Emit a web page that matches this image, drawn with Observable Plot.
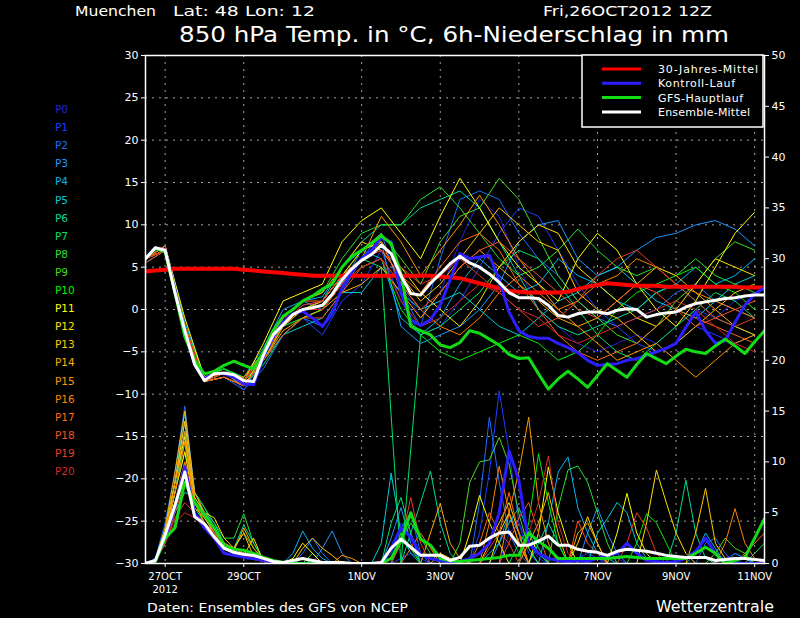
<!DOCTYPE html>
<html><head><meta charset="utf-8">
<script src="https://cdn.jsdelivr.net/npm/d3@7"></script>
<script src="https://cdn.jsdelivr.net/npm/@observablehq/plot@0.6"></script>
<style>
html,body{margin:0;padding:0;background:#000;}
#wrap{position:relative;width:800px;height:618px;background:#000;overflow:hidden;}
#wrap svg{position:absolute;left:0;top:0;}
</style></head><body><div id="wrap"></div>
<script>
// ---- time axis (hours after 26OCT2012 12Z) ----
const hours6 = d3.range(0, 379, 6);    // 64 steps, 6-hourly
const hours12 = d3.range(0, 373, 12);  // 32 steps, 12-hourly (members' temperature)
const xTickHours = [12, 60, 132, 180, 228, 276, 324, 372];
const xTickLabels = ["27OCT\n2012", "29OCT", "1NOV", "3NOV", "5NOV", "7NOV", "9NOV", "11NOV"];
const tempTicks = [-30, -25, -20, -15, -10, -5, 0, 5, 10, 15, 20, 25, 30];
const precTicks = [0, 5, 10, 15, 20, 25, 30, 35, 40, 45, 50];

// ---- ensemble members ----
const memberNames = ["P0","P1","P2","P3","P4","P5","P6","P7","P8","P9","P10","P11","P12","P13","P14","P15","P16","P17","P18","P19","P20"];
const memberColors = ["#2323d7","#1e3cff","#1e6eff","#1e96ff","#00b4f5","#00cddc","#00dc96","#00e164","#28e132","#46dc1e","#00f000","#ffff00","#ffe100","#ffc800","#ffaf00","#ff9600","#ff8200","#ff6914","#f55028","#e63c28","#d22828"];

// 850 hPa temperature, 12-hourly
const T_P0  = [6,7.5,-2,-8.5,-7.5,-8.5,-5,-1.5, 0.5,1,5,7,8,3,-1,2, 8,13,11,5,0,-2,-4,-5, -4,-3,-4,-2,0,-1,1,2];
const T_P1  = [6,7,-3,-8,-7,-9.5,-6,-2, -1,-3,1,3,7,1,-3,-2, 1,5,9,12,11,7,3,0, -2,-4,-5,-4,-2,-3,-4,-3];
const T_P2  = [6,7,-2.5,-8.5,-8,-9.5,-7,-3, -1,-2,2,6,9,2,-2,6, 13,14,13,9,6,4,1,-1, -2,-1,0,2,3,1,0,-1];
const T_P3  = [5.5,7,-2,-8,-7.5,-8,-4.5,0, 1,0,3,7,8,-2,-4,-3, -2,0,3,8,10,10.5,6,4, 5,7,8.5,9,10,10.5,9.5,7.5];
const T_P4  = [6,7.5,-1.5,-8,-7,-8,-5,-1, 1,1.5,5,7,6,-1,-3,-1, 3,6,4,2,3,6,4,3, 1,0,2,3,5,3,4,6];
const T_P5  = [6,7,-3,-8.5,-7.5,-9,-6,-3, -2,-1,2,2,5,2,0,1, 2,0,-2,-3,-1,1,2,4, 5,3,1,0,-1,1,3,4];
const T_P6  = [6,7,-2.5,-8,-7.5,-8.5,-6,-2, 0,1,5,8,10,10,12,13, 14,12,8,4,0,-2,-3,-2, -1,0,2,3,1,-1,-2,-3];
const T_P7  = [6,7.5,-2,-8.5,-8,-9,-6.5,-3, -1,0,4,6,5,-30,-3,-2, 0,2,5,7,6,3,0,-3, -5,-6,-4,-2,0,2,1,-1];
const T_P8  = [6,7,-3,-8,-7,-8.5,-5.5,-1, 1,2,6,9,10,10,13,14.5, 12,9,6,4,5,7,9.5,7, 5,4,5,4,6,4,3,2];
const T_P9  = [6,7,-2.5,-8.5,-7.5,-8,-5,-2, 0,1,4,7,9,6,3,8, 11,12,15.5,13,8.5,4,1,-1, -3,-4,-2,1,3,6,8,7];
const T_P10 = [6,7.5,-2,-8,-7,-8,-5,-2, -1,0,3,5,6,0,-3,-5, -6,-5,-4,-3,-4,-6,-5,-3, 0,2,3,4,5,3,2,0];
const T_P11 = [6,7.5,-1,-8,-7.5,-8.5,-4,1, 2,3,8,10.5,12,9,6,11, 15.5,12,8,5,3,1,6,9, 7,3,0,-2,1,5,9,11.5];
const T_P12 = [6,7,-2,-8.5,-8,-9,-5.5,-1.5, 0,1,4,7,8,5,2,0, -2,1,5,8,10,9,5,3, 1,-1,-2,0,3,6,5,4];
const T_P13 = [6,7.5,-2.5,-8.5,-7.5,-8.5,-5,-1, 1,2,5,8,7,4,1,3, 6,9,12,10,8,7,2,0, -1,-3,-5,-4,-2,0,2,3];
const T_P14 = [6,7,-3,-8,-7.5,-9,-6,-2.5, -1,0,2,3,5,2,-1,2, 5,7,5,3,1,-1,-2,-1, 1,3,5,4,2,0,-2,-3];
const T_P15 = [6,7.5,-2,-8.5,-8,-9,-6,-2, 0,1,4,6,11,8,4,7, 10,13.5,10,6,3,0,-2,-4, -6,-5,-4,-6,-8,-6,-4,-3];
const T_P16 = [6,7,-2.5,-8,-7.5,-8.5,-5.5,-2, 0,0,3,6,8,3,0,-2, -3,-1,2,4,2,0,1,3, 4,6,5,3,2,1,0,-1];
const T_P17 = [6,7,-2,-8.5,-7.5,-8,-5,-1, 1,1,4,6,7,4,2,5, 8,9,7,3,0,-3,-5,-6, -5,-4,-2,0,-1,-2,-3,-4];
const T_P18 = [5.5,7,-3,-8.5,-8,-9,-6,-3, -1,-1,2,5,6,3,0,2, 5,7,8,6,4,2,0,-1, 1,3,2,0,-2,-1,0,1];
const T_P19 = [6,7.5,-2.5,-8,-7.5,-8.5,-5.5,-1.5, 0.5,1,4,6,7,5,3,4, 6,4,2,0,-2,-1,1,4, 6,7,5,3,1,-1,-2,-1];
const T_P20 = [6,7,-2,-8.5,-7.5,-8.5,-5,-1, 0,0,3,5,6,1,-2,-1, 1,3,2,0,-1,-3,-4,-3, -2,-1,0,1,0,-2,-4,-5];

// 6h precipitation (mm), 6-hourly
const R_P0  = [0,0.3,3,7,12,6,4,3, 1.5,1,0.8,0.5,0.3,0,0,0, 0,0,0,0,0,0,0,0, 0,0,4,3,1,0,0,0, 0,0,0,0,0,3,4,2, 0.5,0,0,0,0,0,0,0.5, 0.5,0,0,0,0,0,0,0, 0,0,0,0.5,1,0.5,0,0];
const R_P1  = [0,0.2,2,6,9,5,4,2.5, 1.5,1,1,0.6,0.3,0,0,0, 0,0,0,0,0,0,0,0, 0,0,0.5,1,0.5,0,0,0, 0,0,3,9,17,11,4,1, 0,0,0,0,0.5,1,0.5,0, 0,0,0,0,0,0,0,0, 0,0,0,0,0,0,0,0];
const R_P2  = [0,0.5,4,9,15.5,7,5,3, 2,1.5,1,0.5,0.2,0,0,0, 1,2.5,1,0,0,0,0,0, 0,1,3.5,5,1,0,0,0, 0,0,6,14.4,8,3,1,0, 0,0,0,0,0,0,0,0, 0,0,0,0,0,0,0,0, 0,2,2.5,1,0,0,0,0];
const R_P3  = [0,0.3,3,8,14,6,4.5,3, 1.5,1,0.8,0.5,0.3,0,0,0, 0,0,1.5,3.2,1,0,0,0, 0,2.5,5.5,2,0,0,0,0, 0,0,0,0,2,5,3,1.5, 0,0,0,0,0,3,5.5,3, 1,0,0,0,0,0,0,0, 0,0,0,0,1,0.5,0,0];
const R_P4  = [0,0.2,2.5,7,13,6,5,4, 2,1.2,1,0.6,0.3,0,0,1, 3.2,1.5,0.5,0,0,0,0,0, 0,0,0,0,0,0,0,0, 0,0,0,0,0,0,0,0, 0,4,9,10.5,5.5,3,1,0.5, 0,0,0,0,0,0,0,0, 1,3,1.5,0,0,0,0,0];
const R_P5  = [0,0.4,3.5,8,15,7,5.5,3.5, 2,1.5,1,0.5,0.2,0,0,0, 0,0,0,0,0,0,0,0, 2,8.9,3,1,0,0,0,0, 0,0,0,1,2,4,5.5,3, 1,0,0,0,0,0,3,4.4, 6,5,2,0.5,0,0,0,0, 0,0,0,0,0,0,0,0];
const R_P6  = [0,0.3,2,5,7,6.5,5,3.5, 2,1.5,3.8,2,0.5,0.2,0,0, 0.5,0,0,0,0,0,0,0, 0,0,0,3,6,9.1,4,1, 0,0,0,0,0,0,0,0, 2,4,2,0,0,0,0,0, 0,0,0,0,0,0,3,8.2, 3,0.5,0,0,0,0,0,0];
const R_P7  = [0,0.2,2,6,10,5.5,4,3, 1.5,1,0.8,0.5,0.2,0,0,0, 0,0,0,0,0,0,0,0, 0,4,6.5,3,0,0,0,0, 0,0,0,0,0,0,2,3.5, 1.5,0,0,0,0,0,0,0, 0,0,0,0,0,0,0,0, 0,0,0,0,0,0,1,2];
const R_P8  = [0,0.3,3,7,11,7,5.5,4, 2.5,2.5,4.9,2,0.3,0,0,0, 0,1,0,0,0,0,0,0, 0,0,2,4,2.5,1,0,0, 0,0,0,0,0,0,0,0, 0,0,5.5,9.2,9.6,8,5,2, 0,0,0,0,0,0,0,0, 0,0,0,0,0,0,0,0];
const R_P9  = [0,0.2,2.5,6,8,6,4,3, 2,1.5,3,1.5,0.4,0,0,0, 0,0,0,0,0,0,0,0, 0,0,0,0,0,0,0,0, 2,8,10,10.2,12.4,9.8,4.9,1.5, 0,0,0,0,0,0,0,0, 0,0,0,0,0,0,0,0, 0,0,1,2.5,1.5,1,0,0];
const R_P10 = [0,0.3,3,7,12,5,4,2.5, 1.5,1,0.8,0.5,0.2,0,0,0, 0,0,0,0,0,0,0,0, 0,0,3,1.5,0,0,0,0, 0,0,0,0,0,0,0,4, 10.8,6,2,0,0,0,0,0, 0,0,2,4.9,4,2,0,0, 0,0,0,0,0,0,0,0];
const R_P11 = [0,0.4,3,8,12.5,6,5,3.5, 2,1.5,1,0.6,0.3,0,0,0.5, 2,1,0,0,0,0,0,0, 0,0,0,0,0,0,0,0, 0,3,6.7,4,2,0,0,0, 3,9.5,5,2,0,0,0,0, 3,6.9,3,1,0,0,0,0, 0,0,0,0,0,0,0,0];
const R_P12 = [0,0.3,2.5,7,11,5.5,4.5,3, 2,1,0.8,2.5,0.2,0,0,0, 0,0,0,0,0,0,0,0, 0,0,0,0,0,0,1,0.5, 0,0,0,0,3,5,2,0, 0,0,0,0,2,4.6,2,0, 0,0,0,4,9.2,6,3,1, 0,0,0,0,0,0,0,0];
const R_P13 = [0,0.3,3,8,14,6.5,5,4.5, 2.5,1.5,3,0.7,0.3,0,0,0, 1.5,2.5,1.5,0.8,0,0,0,0, 0,0,0,0,0,0,0,0, 0,0,0,2,4,6,3,0, 0,0,0,0,0,0,0,0, 0,0,0,0,0,0,0,0, 3,7.4,2,0.5,0,0,0,0];
const R_P14 = [0,0.4,3.5,9,15,7,5,3.5, 2,1.2,3.5,1.5,0.3,0,0,0, 0,0,0,0,0,0,0,0, 0,0,0,0,0,3,5.9,2, 0.5,0,0,0,0,0,0,2, 4,7,3,0,3,4,2,0, 0,0,0,0,0,0,0,0, 0,0,0,0,0,0,0,0];
const R_P15 = [0,0.3,3,8,13,6,4,3, 1.5,1,0.8,0.4,0.2,0,0,0, 0,0,0,0,0.8,0.5,0,0, 0,0,0,0,0,0,0,0, 0,0,0,0,0,5,9,14.4, 6,2,0,0,0,0,0,0, 0,0,0,0,0,0,0,0, 0,0,0,0,0,0,0,0];
const R_P16 = [0,0.3,3,7,12,5.5,4.5,3.5, 2,1.5,1,0.6,0.3,0,0,0, 0,0,0,0,0,0,0,0, 0,0,0,0,0,0,0,0, 0,0,0,4,9.6,5,2,0, 0,0,0,0,0,0,0,0, 0,0,0,0,0,0,0,0, 0,0,0,2,5.4,2,0.5,0];
const R_P17 = [0,0.2,2.5,6,10,6,5,3, 2,1.5,1,0.5,0.2,0,0,0, 0,0,0,0,0,0,0,0, 0,0,0,1.5,3,1.5,0,0, 0,0,2,5,3,7,3,0, 0,0,0,0,0,0,0,0, 0,0,0,0,0,0,0,0, 0,0,0,0,0,1,2,3];
const R_P18 = [0,0.2,2,5,8,5,4,3, 2,1.5,1,0.5,0.2,0,0,0, 0,0,0,0,0,0,0,0, 0,0,0,0,0,0,0,0, 0,0,0,0,0,2,4.5,6, 3,0,0,0,4.2,2,1,0, 0,0,0,0,0,0,0,0, 0,0,0,0,0,0,0,0];
const R_P19 = [0,0.2,2,4.5,6,5,4,3, 1.5,1,0.8,0.5,0.2,0,0,0, 0,0,0,0,0,0,0,0, 0,0,2,6.5,2,0,0,0, 0,0,0,1.5,3,2,0,0, 0,0,0,0,0,0,0,0, 0,2,5,3.5,1,0,0,0, 0,0,0,0,0,0,0,0];
const R_P20 = [0,0.3,2,4,5,4.5,3.5,2.5, 1.5,1,0.8,0.4,0.2,0,0,0, 0,0,0,0,0,0,0,0, 0,0,0,0,0,0,0,0, 0,0,0,0,0,0,0,3, 6,10.6,4,1,0,0,0,0, 0,0,0,0,0,0,0,0, 0,0,0,0,0,0,0,0];

// ---- highlighted runs, 6-hourly ----
const climTemp = [4.5,4.6,4.7,4.8,4.8,4.8,4.8,4.8, 4.8,4.8,4.7,4.6,4.5,4.4,4.3,4.2, 4.1,4.0,4.0,4.0,4.0,4.0,4.0,4.0, 4.0,4.0,4.0,4.0,4.0,4.0,3.9,3.8, 3.7,3.4,3.1,2.8,2.5,2.2,2.1,2.0, 2.0,2.0,2.0,2.1,2.4,2.7,2.9,3.1, 3.0,2.9,2.8,2.8,2.8,2.7,2.7,2.7, 2.7,2.7,2.7,2.7,2.7,2.6,2.6,2.6];
const ctrlTemp = [6.0,7.3,7.0,2.3,-2.8,-6.5,-8.2,-7.5, -7.6,-8.0,-8.8,-8.9,-5.6,-3.2,-1.5,-0.5, -0.2,-1.0,-2.0,-0.5,2.5,4.5,6.0,7.0, 8.5,8.0,2.0,-1.2,-1.9,-1.2,0.5,3.5, 6.6,6.0,6.2,6.4,3.5,-0.3,-2.5,-3.2, -3.4,-3.4,-4.0,-4.5,-5.1,-6.0,-6.6,-6.5, -6.4,-6.0,-5.8,-5.4,-5.0,-4.6,-4.0,-2.1, -0.3,-2.5,-4.0,-3.7,-1.5,0.5,1.8,2.6];
const gfsTemp = [6.0,7.2,6.8,2.0,-3.2,-6.0,-7.6,-7.3, -6.6,-6.1,-6.6,-7.0,-5.0,-2.5,-0.8,0.0, 1.0,1.6,2.4,3.0,5.0,6.3,7.0,7.8, 8.7,7.8,4.2,-2.0,-2.5,-3.0,-4.2,-4.5, -3.9,-2.5,-2.8,-3.5,-4.2,-5.3,-5.8,-5.7, -7.6,-9.4,-8.2,-7.3,-8.2,-9.2,-7.8,-6.4, -7.2,-8.0,-6.5,-5.2,-5.8,-6.4,-5.5,-4.7, -5.0,-5.2,-4.3,-3.5,-4.3,-5.2,-3.8,-2.5];
const meanTemp = [6.0,7.3,7.0,2.0,-2.5,-6.5,-8.4,-7.6, -7.5,-7.7,-8.4,-8.5,-5.4,-3.0,-1.8,-0.6, 0.0,0.2,0.5,1.8,3.5,4.8,5.8,6.5, 7.6,6.6,4.0,1.9,1.7,3.1,4.2,5.4, 6.3,5.5,5.0,4.2,3.2,2.0,1.4,1.4, 1.3,0.5,-0.7,-0.9,-0.5,-0.3,-0.3,-0.5, -0.1,0.1,0.0,-0.9,-0.6,-0.4,-0.3,0.3, 0.7,0.9,1.1,1.3,1.4,1.6,1.7,1.7];
const ctrlPrec = [0,0.3,2.5,5.5,9.5,5.0,3.5,2.5, 1.0,0.8,0.6,0.5,0.3,0.1,0,0, 0,0,0,0,0,0,0,0, 0,1.5,3.5,2.6,0.8,0.5,0.3,0.1, 0.2,0.5,1.0,2.0,5.0,11.1,8.2,2.0, 1.0,0.5,0.3,0.2,0.3,0.2,0.5,0.8, 1.0,2.0,1.0,0.3,0.2,0.1,0.2,0.5, 1.2,2.5,1.0,0.2,0.1,0,0,0];
const gfsPrec = [0,0.2,2.5,3.5,8.0,6.0,4.8,3.5, 1.8,1.4,1.3,1.0,0.6,0.3,0.1,0, 0,0,0,0,0,0,0,0, 0,0.5,2.3,5.0,2.4,1.8,0.5,0.3, 0.2,0.3,0.4,0.5,0.6,0.8,0.8,3.0, 2.2,1.5,0.5,0.5,0.5,0.5,0.5,0.5, 0.6,0.7,0.6,0.5,0.5,0.5,0.5,0.5, 1.0,1.6,1.0,0,0.3,0.6,2.5,4.4];
const meanPrec = [0,0.3,2.8,5.7,9.0,4.6,3.9,2.6, 1.5,1.1,0.9,0.8,0.5,0.2,0.1,0.3, 0.5,0.3,0.1,0.1,0.1,0,0,0, 0.1,1.5,2.4,1.6,0.8,0.8,0.8,0.3, 0.6,1.7,1.8,2.5,3.0,3.1,1.8,1.8, 2.2,2.7,1.8,1.8,1.4,1.2,1.1,0.8, 1.2,1.4,1.3,1.2,1.0,0.8,0.7,0.6, 0.6,0.6,0.3,0.4,0.5,0.5,0.4,0.3];

const legendLabels = ["30-Jahres-Mittel", "Kontroll-Lauf", "GFS-Hauptlauf", "Ensemble-Mittel"];
const legendColors = ["#ff0000", "#2d1eff", "#14dc14", "#ffffff"];

// ---- layout (not data) ----
const legendTextWidths = [100, 77, 85, 92];

// ---- build tables ----
const memberTemps = [T_P0,T_P1,T_P2,T_P3,T_P4,T_P5,T_P6,T_P7,T_P8,T_P9,T_P10,T_P11,T_P12,T_P13,T_P14,T_P15,T_P16,T_P17,T_P18,T_P19,T_P20];
const memberPrecs = [R_P0,R_P1,R_P2,R_P3,R_P4,R_P5,R_P6,R_P7,R_P8,R_P9,R_P10,R_P11,R_P12,R_P13,R_P14,R_P15,R_P16,R_P17,R_P18,R_P19,R_P20];
const precToT = p => -30 + p * 60 / 50;   // right axis 0..50 mm onto left axis -30..30
const tempRows = memberNames.flatMap((m, k) => memberTemps[k].map((t, j) => ({m, c: memberColors[k], h: hours12[j], t})));
const precRows = memberNames.flatMap((m, k) => memberPrecs[k].map((p, i) => ({m, c: memberColors[k], h: hours6[i], p})));
const mainRows = hours6.map((h, i) => ({h, clim: climTemp[i], ctrl: ctrlTemp[i], gfs: gfsTemp[i], mean: meanTemp[i], ctrlP: ctrlPrec[i], gfsP: gfsPrec[i], meanP: meanPrec[i]}));
const labelMap = new Map(xTickHours.map((h, i) => [h, xTickLabels[i]]));
const gridStyle = {stroke: "#a0a0a0", strokeOpacity: 1, strokeWidth: 1, strokeDasharray: "2,5"};

const chart = Plot.plot({
  width: 800, height: 618,
  marginLeft: 145, marginRight: 36, marginTop: 55, marginBottom: 55,
  style: {background: "#000", color: "#fff", fontFamily: "DejaVu Sans, sans-serif", fontSize: "10px", overflow: "visible"},
  x: {domain: [0, 378], label: null},
  y: {domain: [-30, 30], label: null},
  color: {type: "identity"},
  marks: [
    Plot.gridY(tempTicks.filter(t => t > -30 && t < 30), gridStyle),
    Plot.gridX(xTickHours, gridStyle),
    Plot.line(precRows, {x: "h", y: d => precToT(d.p), z: "m", stroke: "c", strokeWidth: 1, clip: true}),
    Plot.line(tempRows, {x: "h", y: "t", z: "m", stroke: "c", strokeWidth: 1, clip: true}),
    Plot.line(mainRows, {x: "h", y: "clim", stroke: legendColors[0], strokeWidth: 4, clip: true}),
    Plot.line(mainRows, {x: "h", y: d => precToT(d.ctrlP), stroke: legendColors[1], strokeWidth: 3, clip: true}),
    Plot.line(mainRows, {x: "h", y: "ctrl", stroke: legendColors[1], strokeWidth: 3, clip: true}),
    Plot.line(mainRows, {x: "h", y: d => precToT(d.gfsP), stroke: legendColors[2], strokeWidth: 3, clip: true}),
    Plot.line(mainRows, {x: "h", y: "gfs", stroke: legendColors[2], strokeWidth: 3, clip: true}),
    Plot.line(mainRows, {x: "h", y: d => precToT(d.meanP), stroke: legendColors[3], strokeWidth: 3, clip: true}),
    Plot.line(mainRows, {x: "h", y: "mean", stroke: legendColors[3], strokeWidth: 3, clip: true}),
    Plot.axisY(tempTicks, {anchor: "left", tickSize: 4, tickPadding: 3, fontSize: 11, label: null}),
    Plot.axisY(precTicks.map(precToT), {anchor: "right", tickSize: 4, tickPadding: 3, fontSize: 11, label: null,
      tickFormat: t => String(Math.round((t + 30) * 50 / 60))}),
    Plot.axisX(xTickHours, {anchor: "bottom", tickSize: 4, tickPadding: 3, fontSize: 10, lineHeight: 1.3, label: null,
      tickFormat: h => labelMap.get(h)}),
    Plot.frame({stroke: "#fff", strokeWidth: 1.5})
  ]
});
document.getElementById("wrap").appendChild(chart);

// ---- texts, legend, member labels ----
const ov = d3.select("#wrap").append("svg").attr("width", 800).attr("height", 618)
  .style("font-family", "DejaVu Sans, sans-serif").attr("fill", "#fff");
function txt(s, x, y, size, len) {
  const t = ov.append("text").attr("x", x).attr("y", y).attr("font-size", size).text(s);
  if (len) t.attr("textLength", len).attr("lengthAdjust", "spacingAndGlyphs");
  return t;
}
txt("Muenchen", 75, 16, 14.5, 81);
txt("Lat: 48 Lon: 12", 173, 16, 14.5, 142);
txt("Fri,26OCT2012 12Z", 543, 16, 14.5, 169);
txt("850 hPa Temp. in °C, 6h-Niederschlag in mm", 179, 42, 22, 550);
txt("Daten: Ensembles des GFS von NCEP", 147, 612, 13, 261);
txt("Wetterzentrale", 656, 612, 16, 118);

const lg = ov.append("g");
lg.append("rect").attr("x", 582).attr("y", 55).attr("width", 181).attr("height", 72)
  .attr("fill", "#000").attr("stroke", "#fff").attr("stroke-width", 1.5);
legendLabels.forEach((s, i) => {
  const y = 69 + i * 14.3;
  lg.append("line").attr("x1", 602).attr("x2", 641).attr("y1", y).attr("y2", y)
    .attr("stroke", legendColors[i]).attr("stroke-width", 3);
  lg.append("text").attr("x", 658).attr("y", y + 4).attr("font-size", 11).attr("fill", "#fff")
    .attr("textLength", legendTextWidths[i]).attr("lengthAdjust", "spacing").text(s);
});

memberNames.forEach((s, k) => {
  ov.append("text").attr("x", 55).attr("y", 113 + k * 18.1).attr("font-size", 10.5)
    .attr("fill", memberColors[k]).text(s);
});
</script>
</body></html>
